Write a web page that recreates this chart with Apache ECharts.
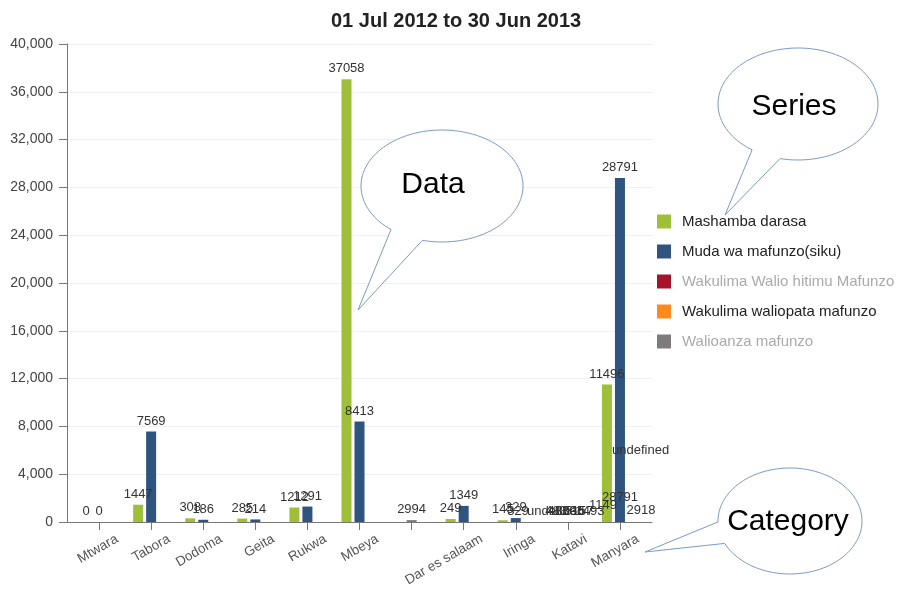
<!DOCTYPE html>
<html>
<head>
<meta charset="utf-8">
<script src="https://cdn.jsdelivr.net/npm/echarts@6/dist/echarts.min.js"></script>
<style>
  html, body { margin: 0; padding: 0; background: #fff; }
  #app { width: 900px; height: 590px; }
</style>
</head>
<body>
<div id="app"></div>
<script>
// categories (one unnamed slot between Mbeya and Dar es salaam)
const regions = ['Mtwara', 'Tabora', 'Dodoma', 'Geita', 'Rukwa', 'Mbeya', '', 'Dar es salaam', 'Iringa', 'Katavi', 'Manyara'];

const seriesNames = ['Mashamba darasa', 'Muda wa mafunzo(siku)', 'Wakulima Walio hitimu Mafunzo', 'Wakulima waliopata mafunzo', 'Walioanza mafunzo'];
const seriesColors = ['#a0bf38', '#2f5480', '#a5142b', '#ff8a1c', '#7f7a7c'];

const mashamba = [0, 1447, 308, 285, 1212, 37058, null, 249, 145, null, 11496];
const muda = [0, 7569, 186, 214, 1291, 8413, null, 1349, 329, null, 28791];
const waliohitimu = [null, null, null, null, null, null, null, null, null, null, null];
const waliopata = [null, null, null, null, null, null, null, null, null, null, null];
const walioanza = [null, null, null, null, null, null, 160, null, null, null, null];
const walioanzaLabels = ['', '', '', '', '', '', '2994', '', '', '', ''];

const yTicks = { min: 0, max: 40000, step: 4000 };

const FONT = '"Liberation Sans", Arial, sans-serif';

function withCommas(v) {
    return String(v).replace(/\B(?=(\d{3})+(?!\d))/g, ',');
}

// speech bubble outline: ellipse with a pointed tail
function bubble(cx, cy, rx, ry, a1, a2, tip, word, tx, ty) {
    const pts = [];
    for (let a = a2; a > a1 - 360; a -= 3) {
        const r = a * Math.PI / 180;
        pts.push([cx + rx * Math.cos(r), cy + ry * Math.sin(r)]);
    }
    const e = (a1 - 360) * Math.PI / 180;
    pts.push([cx + rx * Math.cos(e), cy + ry * Math.sin(e)]);
    pts.push(tip);
    return [
        {
            type: 'polygon', z: 100,
            shape: { points: pts },
            style: { fill: '#fff', stroke: '#7b9bc4', lineWidth: 1 }
        },
        {
            type: 'text', z: 101, x: tx, y: ty,
            style: {
                text: word, fill: '#000', fontSize: 30, fontFamily: FONT,
                textAlign: 'center', textVerticalAlign: 'middle',
                align: 'center', verticalAlign: 'middle'
            }
        }
    ];
}

// overlapping leftover labels drawn by the original chart
function stray(text, x, y, align) {
    return {
        type: 'text', z: 50, x: x, y: y,
        style: {
            text: text, fill: '#333', fontSize: 13, fontFamily: FONT,
            textAlign: align || 'center', textVerticalAlign: 'middle',
            align: align || 'center', verticalAlign: 'middle'
        }
    };
}

const chart = echarts.init(document.getElementById('app'));

const barLabel = {
    show: true, position: 'top', distance: 4,
    color: '#333', fontSize: 13, fontFamily: FONT
};

function barSeries(i, data, stack, extra) {
    return Object.assign({
        name: seriesNames[i],
        type: 'bar',
        xAxisIndex: 1,
        yAxisIndex: 1,
        stack: stack,
        barWidth: 10,
        barGap: '30%',
        data: data,
        itemStyle: { color: seriesColors[i] },
        label: barLabel
    }, extra || {});
}

const legendTextColors = ['#222', '#222', '#aaa', '#222', '#aaa'];

const option = {
    animation: false,
    backgroundColor: '#fff',
    title: {
        text: '01 Jul 2012 to 30 Jun 2013',
        left: 326,
        top: 6,
        textStyle: { fontSize: 20, fontWeight: 'bold', color: '#222', fontFamily: FONT }
    },
    legend: {
        orient: 'vertical',
        left: 652,
        top: 209,
        icon: 'rect',
        itemWidth: 14,
        itemHeight: 14,
        itemGap: 15,
        selectedMode: false,
        textStyle: { fontSize: 15, fontFamily: FONT, color: '#222', padding: [0, 0, 0, 6] },
        data: seriesNames.map((n, i) => ({ name: n, textStyle: { color: legendTextColors[i] } }))
    },
    grid: [
        { left: 67, right: 248, top: 44, bottom: 68 },
        { left: 73, right: 254, top: 44, bottom: 68 },
        { left: 91, right: 236, top: 44, bottom: 68 }
    ],
    xAxis: [
        {
            gridIndex: 0, type: 'value', min: 0, max: 1,
            axisLine: { show: true, lineStyle: { color: '#777' } },
            axisTick: { show: false }, axisLabel: { show: false }, splitLine: { show: false }
        },
        {
            gridIndex: 1, type: 'category', data: regions,
            axisLine: { show: false },
            axisTick: { show: true, alignWithLabel: true, interval: 0, length: 8, lineStyle: { color: '#777' } },
            axisLabel: { show: false }
        },
        {
            gridIndex: 2, type: 'category', data: regions,
            axisLine: { show: false }, axisTick: { show: false },
            axisLabel: { interval: 0, rotate: 30, margin: 16, fontSize: 13.5, color: '#555', fontFamily: FONT }
        }
    ],
    yAxis: [
        {
            gridIndex: 0, type: 'value', min: yTicks.min, max: yTicks.max, interval: yTicks.step,
            axisLine: { show: true, lineStyle: { color: '#777' } },
            axisTick: { show: true, length: 8, lineStyle: { color: '#777' } },
            axisLabel: { formatter: withCommas, fontSize: 14, color: '#444', margin: 14, fontFamily: FONT },
            splitLine: { lineStyle: { color: '#f0f0f0' } }
        },
        { gridIndex: 1, type: 'value', min: yTicks.min, max: yTicks.max, show: false },
        { gridIndex: 2, type: 'value', min: yTicks.min, max: yTicks.max, show: false }
    ],
    series: [
        barSeries(0, mashamba, 'g'),
        barSeries(1, muda, 'b'),
        barSeries(2, waliohitimu, 'r'),
        barSeries(3, waliopata, 'r'),
        barSeries(4, walioanza, 'b', {
            label: Object.assign({}, barLabel, { formatter: p => walioanzaLabels[p.dataIndex] })
        })
    ],
    graphic: [
        stray('329', 518, 511),
        stray('undefined', 527, 511, 'left'),
        stray('483', 556, 511), stray('4830', 562, 511), stray('3035', 570, 511),
        stray('5157', 579, 511), stray('1493', 590, 511), stray('1149', 603, 505),
        stray('28791', 620, 497), stray('2918', 641, 510),
        stray('undefined', 612, 450, 'left')
    ]
        .concat(bubble(442, 186, 81, 56, 129, 104, [358, 310], 'Data', 433, 185))
        .concat(bubble(798, 104, 80, 56, 125, 103, [725, 215], 'Series', 794, 107))
        .concat(bubble(790, 521, 72, 53, 179, 155, [645, 552], 'Category', 788, 522))
};

chart.setOption(option);
</script>
</body>
</html>
